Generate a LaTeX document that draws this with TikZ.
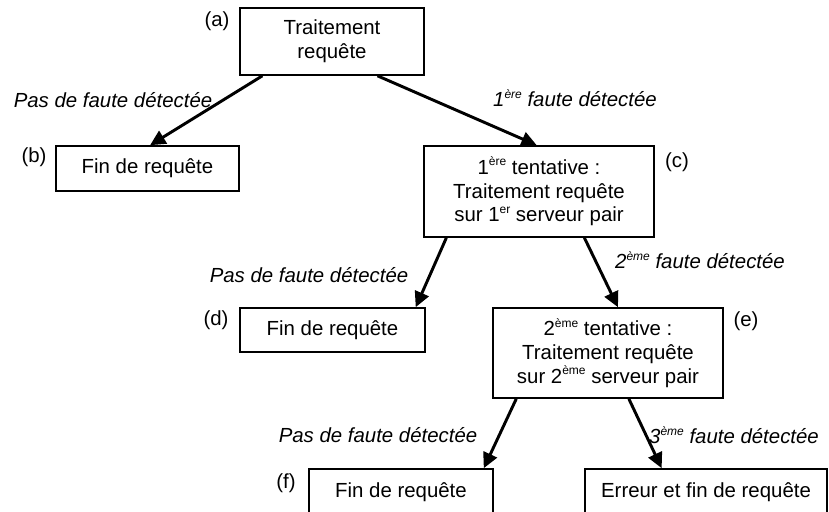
\documentclass[tikz,border=0pt]{standalone}
\usepackage{fontspec}
\setmainfont{Liberation Sans}
\usetikzlibrary{calc,arrows.meta}
\newcommand{\supx}[1]{\raisebox{0.42em}{\fontsize{9}{9}\selectfont #1}}
\tikzset{
  px/.style={x=0.75pt,y=-0.75pt},
  box/.style={draw,line width=1.2pt,align=center,inner sep=0pt,
    font=\fontsize{15.3}{17.8}\selectfont},
  tag/.style={inner sep=0pt,font=\fontsize{15.3}{17}\selectfont},
  lab/.style={inner sep=0pt,font=\fontsize{15.3}{17}\selectfont\itshape},
  arr/.style={line width=2.2pt,-{Triangle[length=11.5pt,width=11pt]}},
}
\begin{document}
\begin{tikzpicture}[px]
\useasboundingbox (0,0) rectangle (829,511);
% boxes
\node[box,minimum width=184*0.75pt,minimum height=67*0.75pt] (a) at (332,41.5) {Traitement\\requête};
\node[box,minimum width=183*0.75pt,minimum height=45*0.75pt] (b) at (147.5,168.5) {Fin de requête};
\node[box,minimum width=230*0.75pt,minimum height=91*0.75pt] (c) at (539,191.5)
  {1\supx{ère} tentative :\\Traitement requête\\sur 1\supx{er} serveur pair};
\node[box,minimum width=185*0.75pt,minimum height=44*0.75pt] (d) at (332.5,330) {Fin de requête};
\node[box,minimum width=230*0.75pt,minimum height=90*0.75pt] (e) at (608,353)
  {2\supx{ème} tentative :\\Traitement requête\\sur 2\supx{ème} serveur pair};
\node[box,minimum width=184*0.75pt,minimum height=46*0.75pt] (f) at (401,492) {Fin de requête};
\node[box,minimum width=242*0.75pt,minimum height=46*0.75pt] (g) at (706,492) {Erreur et fin de requête};
% tags
\node[tag] (ta) at (217,21) {(a)};
\node[tag] (tb) at (34,157) {(b)};
\node[tag] (tc) at (677,162) {(c)};
\node[tag] (td) at (216,320) {(d)};
\node[tag] (te) at (746,321) {(e)};
\node[tag] (tf) at (286,483) {(f)};
% edge labels
\node[lab] (l1) at (113,100) {Pas de faute détectée};
\node[lab] (l2) at (575,98) {1\supx{ère} faute détectée};
\node[lab] (l3) at (309,275) {Pas de faute détectée};
\node[lab] (l4) at (700,260) {2\supx{ème} faute détectée};
\node[lab] (l5) at (378,435) {Pas de faute détectée};
\node[lab] (l6) at (734,435) {3\supx{ème} faute détectée};
% arrows
\draw[arr] ($(a.south west)!0.125!(a.south east)$) -- ($(b.north west)!0.514!(b.north east)$);
\draw[arr] ($(a.south west)!0.745!(a.south east)$) -- ($(c.north west)!0.49!(c.north east)$);
\draw[arr] ($(c.south west)!0.10!(c.south east)$) -- ($(d.north west)!0.946!(d.north east)$);
\draw[arr] ($(c.south west)!0.696!(c.south east)$) -- ($(e.north west)!0.543!(e.north east)$);
\draw[arr] ($(e.south west)!0.104!(e.south east)$) -- ($(f.north west)!0.946!(f.north east)$);
\draw[arr] ($(e.south west)!0.59!(e.south east)$) -- ($(g.north west)!0.318!(g.north east)$);
\end{tikzpicture}
\end{document}
